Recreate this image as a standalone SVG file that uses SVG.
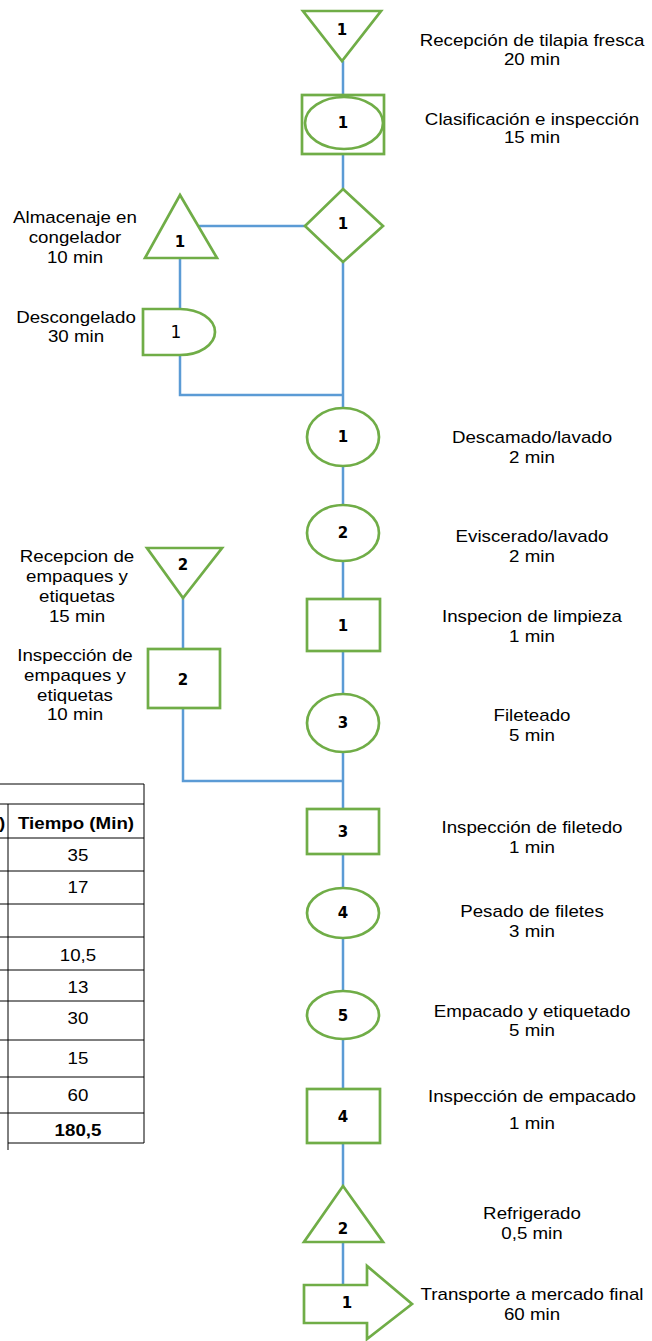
<svg xmlns="http://www.w3.org/2000/svg" width="652" height="1341" viewBox="0 0 652 1341">
<style>
.n{fill:#fff;stroke:#70AD47;stroke-width:2.7}
.c{fill:none;stroke:#5B9BD5;stroke-width:2.5}
.t{font-family:"Liberation Sans",Arial,sans-serif;font-size:16px;fill:#000;text-anchor:middle}
.b{font-family:"DejaVu Sans",sans-serif;font-weight:bold;font-size:15px;fill:#000;text-anchor:middle;dominant-baseline:central}
.g{fill:none;stroke:#000;stroke-width:1}
.tb{font-family:"Liberation Sans",Arial,sans-serif;font-size:16px;fill:#000;text-anchor:middle}
</style>
<rect width="652" height="1341" fill="#fff"/>
<g id="connectors">
<path class="c" d="M343,61V95M343,154V189M343,262V408M343,466V506M343,561V599M343,651V694M343,752V809M343,854V888M343,938V991M343,1039V1089M343,1143V1186M343,1242V1285"/>
<path class="c" d="M305,226H199"/>
<path class="c" d="M180,258V309"/>
<path class="c" d="M180,355V395H343"/>
<path class="c" d="M183,598V649"/>
<path class="c" d="M183,708V781H343"/>
</g>
<g id="table">
<path class="g" d="M0,784H144M0,804H144M0,838H144M0,871H144M0,904H144M0,937H144M0,970H144M0,1001H144M0,1040H144M0,1077H144M0,1113H144M8,1143H144M144,784V1143M8,804V1150"/>
<text class="tb" font-weight="bold" transform="translate(76,829) scale(1.17,1)">Tiempo (Min)</text>
<text class="tb" font-weight="bold" transform="translate(2,829) scale(1.17,1)">)</text>
<text class="tb" transform="translate(78,861) scale(1.17,1)">35</text>
<text class="tb" transform="translate(78,893) scale(1.17,1)">17</text>
<text class="tb" transform="translate(78,961) scale(1.17,1)">10,5</text>
<text class="tb" transform="translate(78,993) scale(1.17,1)">13</text>
<text class="tb" transform="translate(78,1024) scale(1.17,1)">30</text>
<text class="tb" transform="translate(78,1064) scale(1.17,1)">15</text>
<text class="tb" transform="translate(78,1101) scale(1.17,1)">60</text>
<text class="tb" font-weight="bold" transform="translate(78,1136) scale(1.17,1)">180,5</text>
</g>
<g id="n-recepcion">
<polygon class="n" points="303,11 381,11 342,61"/>
<text class="b" x="342" y="30">1</text>
<text class="t" transform="translate(532,46) scale(1.17,1)"><tspan x="0" y="0">Recepción de tilapia fresca</tspan><tspan x="0" y="19">20 min</tspan></text>
</g>
<g id="n-clasificacion">
<rect class="n" x="302" y="95" width="82" height="59"/>
<ellipse class="n" cx="344" cy="123" rx="39" ry="26"/>
<text class="b" x="343" y="123">1</text>
<text class="t" transform="translate(532,125) scale(1.17,1)"><tspan x="0" y="0">Clasificación e inspección</tspan><tspan x="0" y="18">15 min</tspan></text>
</g>
<g id="n-decision">
<polygon class="n" points="343,189 383,226 343,262 305,226"/>
<text class="b" x="343" y="224">1</text>
</g>
<g id="n-almacenaje">
<polygon class="n" points="180,195 217,258 145,258"/>
<text class="b" x="180" y="242">1</text>
<text class="t" transform="translate(75,223) scale(1.17,1)"><tspan x="0" y="0">Almacenaje en</tspan><tspan x="0" y="20">congelador</tspan><tspan x="0" y="40">10 min</tspan></text>
</g>
<g id="n-descongelado">
<path class="n" d="M143,309H180A35,23 0 0 1 180,355H143Z"/>
<text x="176" y="332" font-family="DejaVu Sans,sans-serif" font-size="17" text-anchor="middle" dominant-baseline="central">1</text>
<text class="t" transform="translate(76,323) scale(1.17,1)"><tspan x="0" y="0">Descongelado</tspan><tspan x="0" y="19">30 min</tspan></text>
</g>
<g id="n-descamado">
<ellipse class="n" cx="343" cy="437" rx="36" ry="29"/>
<text class="b" x="343" y="437">1</text>
<text class="t" transform="translate(532,443) scale(1.17,1)"><tspan x="0" y="0">Descamado/lavado</tspan><tspan x="0" y="20">2 min</tspan></text>
</g>
<g id="n-eviscerado">
<ellipse class="n" cx="343" cy="533" rx="36" ry="28"/>
<text class="b" x="343" y="533">2</text>
<text class="t" transform="translate(532,542) scale(1.17,1)"><tspan x="0" y="0">Eviscerado/lavado</tspan><tspan x="0" y="20">2 min</tspan></text>
</g>
<g id="n-limpieza">
<rect class="n" x="307" y="599" width="73" height="52"/>
<text class="b" x="343" y="626">1</text>
<text class="t" transform="translate(532,622) scale(1.17,1)"><tspan x="0" y="0">Inspecion de limpieza</tspan><tspan x="0" y="20">1 min</tspan></text>
</g>
<g id="n-fileteado">
<ellipse class="n" cx="343" cy="723" rx="36" ry="29"/>
<text class="b" x="343" y="723">3</text>
<text class="t" transform="translate(532,721) scale(1.17,1)"><tspan x="0" y="0">Fileteado</tspan><tspan x="0" y="20">5 min</tspan></text>
</g>
<g id="n-recepcion-empaques">
<polygon class="n" points="147,548 222,548 183,598"/>
<text class="b" x="183" y="565">2</text>
<text class="t" transform="translate(77,562) scale(1.17,1)"><tspan x="0" y="0">Recepcion de</tspan><tspan x="0" y="20">empaques y</tspan><tspan x="0" y="40">etiquetas</tspan><tspan x="0" y="60">15 min</tspan></text>
</g>
<g id="n-inspeccion-empaques">
<rect class="n" x="148" y="649" width="72" height="59"/>
<text class="b" x="183" y="680">2</text>
<text class="t" transform="translate(75,661) scale(1.17,1)"><tspan x="0" y="0">Inspección de</tspan><tspan x="0" y="20">empaques y</tspan><tspan x="0" y="40">etiquetas</tspan><tspan x="0" y="59">10 min</tspan></text>
</g>
<g id="n-insp-fileteado">
<rect class="n" x="307" y="809" width="72" height="45"/>
<text class="b" x="343" y="832">3</text>
<text class="t" transform="translate(532,833) scale(1.17,1)"><tspan x="0" y="0">Inspección de filetedo</tspan><tspan x="0" y="20">1 min</tspan></text>
</g>
<g id="n-pesado">
<ellipse class="n" cx="343" cy="913" rx="36" ry="25"/>
<text class="b" x="343" y="913">4</text>
<text class="t" transform="translate(532,917) scale(1.17,1)"><tspan x="0" y="0">Pesado de filetes</tspan><tspan x="0" y="20">3 min</tspan></text>
</g>
<g id="n-empacado">
<ellipse class="n" cx="343" cy="1015" rx="36" ry="24"/>
<text class="b" x="343" y="1016">5</text>
<text class="t" transform="translate(532,1017) scale(1.17,1)"><tspan x="0" y="0">Empacado y etiquetado</tspan><tspan x="0" y="19">5 min</tspan></text>
</g>
<g id="n-insp-empacado">
<rect class="n" x="307" y="1089" width="73" height="54"/>
<text class="b" x="343" y="1117">4</text>
<text class="t" transform="translate(532,1102) scale(1.17,1)"><tspan x="0" y="0">Inspección de empacado</tspan><tspan x="0" y="27">1 min</tspan></text>
</g>
<g id="n-refrigerado">
<polygon class="n" points="343,1186 383,1242 304,1242"/>
<text class="b" x="343" y="1229">2</text>
<text class="t" transform="translate(532,1219) scale(1.17,1)"><tspan x="0" y="0">Refrigerado</tspan><tspan x="0" y="20">0,5 min</tspan></text>
</g>
<g id="n-transporte">
<path class="n" d="M304,1285H367V1266L412,1304L367,1339V1323H304Z"/>
<text class="b" x="347" y="1303">1</text>
<text class="t" transform="translate(532,1300) scale(1.17,1)"><tspan x="0" y="0">Transporte a mercado final</tspan><tspan x="0" y="20">60 min</tspan></text>
</g>
</svg>
